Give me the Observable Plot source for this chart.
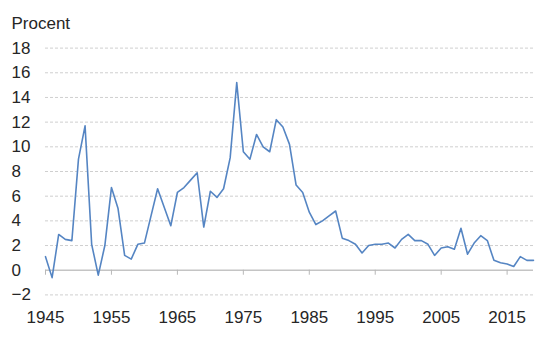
<!DOCTYPE html>
<html><head><meta charset="utf-8">
<script src="https://cdn.jsdelivr.net/npm/d3@7"></script>
<script src="https://cdn.jsdelivr.net/npm/@observablehq/plot@0.6"></script>
<style>body{margin:0;background:#fff;}</style>
</head><body><div id="chart"></div>
<script>
const years = [1945,1946,1947,1948,1949,1950,1951,1952,1953,1954,1955,1956,1957,1958,1959,
1960,1961,1962,1963,1964,1965,1966,1967,1968,1969,1970,1971,1972,1973,1974,1975,1976,1977,1978,1979,
1980,1981,1982,1983,1984,1985,1986,1987,1988,1989,1990,1991,1992,1993,1994,1995,1996,1997,1998,1999,
2000,2001,2002,2003,2004,2005,2006,2007,2008,2009,2010,2011,2012,2013,2014,2015,2016,2017,2018,2019];
const values = [1.1,-0.6,2.9,2.5,2.4,9.0,11.7,2.1,-0.4,2.0,6.7,5.0,1.2,0.9,2.1,
2.2,4.4,6.6,5.1,3.6,6.3,6.7,7.3,7.9,3.5,6.4,5.9,6.6,9.1,15.2,9.6,9.0,11.0,10.0,9.6,
12.2,11.6,10.2,6.9,6.3,4.7,3.7,4.0,4.4,4.8,2.6,2.4,2.1,1.4,2.0,2.1,2.1,2.2,1.8,2.5,
2.9,2.4,2.4,2.1,1.2,1.8,1.9,1.7,3.4,1.3,2.2,2.8,2.4,0.8,0.6,0.5,0.3,1.1,0.8,0.8];
const yTicks = [-2,0,2,4,6,8,10,12,14,16,18];
const xTicks = [1945,1955,1965,1975,1985,1995,2005,2015];
const yTitle = "Procent";

const data = years.map((year, i) => ({year, value: values[i]}));

const chart = Plot.plot({
  width: 557,
  height: 355,
  marginLeft: 45,
  marginRight: 24,
  marginTop: 47.6,
  marginBottom: 60.6,
  style: {fontFamily: "'Liberation Sans', Arial, sans-serif", fontSize: "17px", color: "#262626", background: "#fff", overflow: "visible"},
  x: {domain: [1945, 2019]},
  y: {domain: [-2, 18]},
  marks: [
    Plot.gridY(yTicks.filter(d => d !== 0), {stroke: "#cfcfcf", strokeOpacity: 1, strokeDasharray: "3,2"}),
    Plot.ruleY([0], {stroke: "#c4c4c4", strokeWidth: 1.5}),
    Plot.ruleX(xTicks, {y1: 0, y2: 0, insetBottom: -5, stroke: "#b8b8b8", strokeWidth: 1}),
    Plot.line(data, {x: "year", y: "value", stroke: "#5585c3", strokeWidth: 1.6}),
    Plot.axisY(yTicks, {tickSize: 0, tickPadding: 34, textAnchor: "start", label: null, fill: "#262626"}),
    Plot.axisX(xTicks, {tickSize: 0, tickPadding: 16, tickFormat: d => String(d), label: null, fill: "#262626"}),
    Plot.text([yTitle], {frameAnchor: "top-left", dx: -34, dy: -18.6, textAnchor: "start", lineAnchor: "bottom", fill: "#262626", fontSize: 17})
  ]
});
document.getElementById("chart").append(chart);
</script>
</body></html>
